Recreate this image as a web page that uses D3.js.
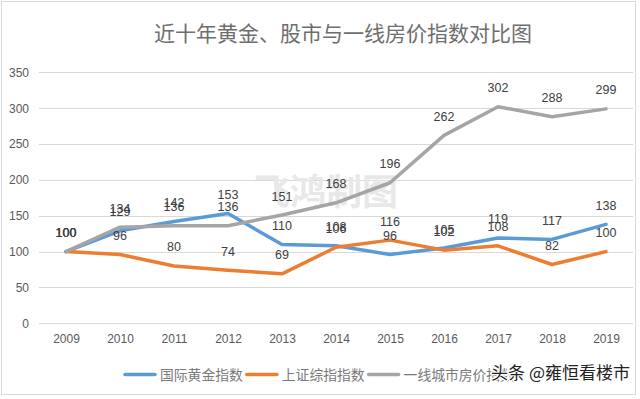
<!DOCTYPE html>
<html>
<head>
<meta charset="utf-8">
<script src="https://cdn.jsdelivr.net/npm/d3@7/dist/d3.min.js"></script>
<style>
    html, body { margin: 0; padding: 0; background: #fff; }
    svg { display: block; }
</style>
</head>
<body>
<div id="chart"></div>
<script>
var years = ["2009", "2010", "2011", "2012", "2013", "2014", "2015", "2016", "2017", "2018", "2019"];
var gold = [100, 129, 142, 153, 110, 108, 96, 105, 119, 117, 138];
var stock = [100, 96, 80, 74, 69, 106, 116, 102, 108, 82, 100];
var house = [100, 134, 136, 136, 151, 168, 196, 262, 302, 288, 299];
var seriesNames = ["国际黄金指数", "上证综指指数", "一线城市房价指数"];
var yTicks = [0, 50, 100, 150, 200, 250, 300, 350];

var color = ["#5b9bd5", "#ed7d31", "#a5a5a5"];
var numFont = "'Liberation Sans', Arial, sans-serif";
var cjkFont = "'Noto Sans CJK SC', sans-serif";

var width = 640, height = 399;
var svg = d3.select("#chart").append("svg")
        .attr("width", width)
        .attr("height", height);

// chart border
svg.append("rect")
        .attr("x", 1.5)
        .attr("y", 1.5)
        .attr("width", 634)
        .attr("height", 393)
        .attr("fill", "#fff")
        .attr("stroke", "#d9d9d9")
        .attr("stroke-width", 1);

svg.append("text")
        .attr("x", 343)
        .attr("y", 41)
        .attr("text-anchor", "middle")
        .attr("font-family", cjkFont)
        .attr("font-size", 21)
        .attr("fill", "#6e6e6e")
        .text("近十年黄金、股市与一线房价指数对比图");

var x = d3.scalePoint().domain(years).range([39, 633]).padding(0.5);
var y = d3.scaleLinear().domain([0, 350]).range([323.3, 72.3]);

// grid
svg.append("g").selectAll("line")
        .data(yTicks)
        .enter().append("line")
        .attr("x1", 39)
        .attr("x2", 633)
        .attr("y1", function (d) { return Math.round(y(d)) + 0.5; })
        .attr("y2", function (d) { return Math.round(y(d)) + 0.5; })
        .attr("stroke", "#d9d9d9")
        .attr("stroke-width", 1);

// y axis labels
var yAxis = svg.append("g")
        .attr("transform", "translate(39,0)")
        .call(d3.axisLeft(y).tickValues(yTicks).tickSize(0).tickPadding(10));
yAxis.select(".domain").remove();
yAxis.selectAll("text")
        .attr("font-family", numFont)
        .attr("font-size", 12)
        .attr("fill", "#595959");

// x axis labels
var xAxis = svg.append("g")
        .attr("transform", "translate(0,323.3)")
        .call(d3.axisBottom(x).tickSize(0).tickPadding(11));
xAxis.select(".domain").remove();
xAxis.selectAll("text")
        .attr("font-family", numFont)
        .attr("font-size", 12)
        .attr("fill", "#595959");

// watermark behind the lines
svg.append("text")
        .attr("x", 326)
        .attr("y", 205)
        .attr("text-anchor", "middle")
        .attr("font-family", cjkFont)
        .attr("font-weight", "bold")
        .attr("font-size", 36)
        .attr("fill", "#e8e8e8")
        .text("飞鸿制图");

var data = [gold, stock, house];

var line = d3.line()
        .x(function (d, i) { return x(years[i]); })
        .y(function (d) { return y(d); });

svg.append("g").selectAll("path")
        .data(data)
        .enter().append("path")
        .attr("d", line)
        .attr("fill", "none")
        .attr("stroke", function (d, i) { return color[i]; })
        .attr("stroke-width", 3.5)
        .attr("stroke-linejoin", "round")
        .attr("stroke-linecap", "round");

// data labels
data.forEach(function (s) {
    svg.append("g").selectAll("text")
            .data(s)
            .enter().append("text")
            .attr("x", function (d, i) { return x(years[i]); })
            .attr("y", function (d) { return y(d) - 14.5; })
            .attr("text-anchor", "middle")
            .attr("font-family", numFont)
            .attr("font-size", 12.5)
            .attr("fill", "#404040")
            .text(function (d) { return d; });
});

// legend
var lx = 125;
var legend = svg.append("g");
seriesNames.forEach(function (name, i) {
    legend.append("line")
            .attr("x1", lx)
            .attr("x2", lx + 30)
            .attr("y1", 374.5)
            .attr("y2", 374.5)
            .attr("stroke", color[i])
            .attr("stroke-width", 3.5)
            .attr("stroke-linecap", "round");
    legend.append("text")
            .attr("x", lx + 35)
            .attr("y", 379.5)
            .attr("font-family", cjkFont)
            .attr("font-size", 13.8)
            .attr("fill", "#7a7a7a")
            .text(name);
    lx += 35 + name.length * 13.8 + 4;
});

// site watermark
svg.append("text")
        .attr("x", 630)
        .attr("y", 379)
        .attr("text-anchor", "end")
        .attr("font-family", cjkFont)
        .attr("font-size", 17)
        .attr("fill", "#222")
        .attr("stroke", "#fff")
        .attr("stroke-width", 2.5)
        .attr("paint-order", "stroke")
        .text("头条 @雍恒看楼市");
</script>
</body>
</html>
